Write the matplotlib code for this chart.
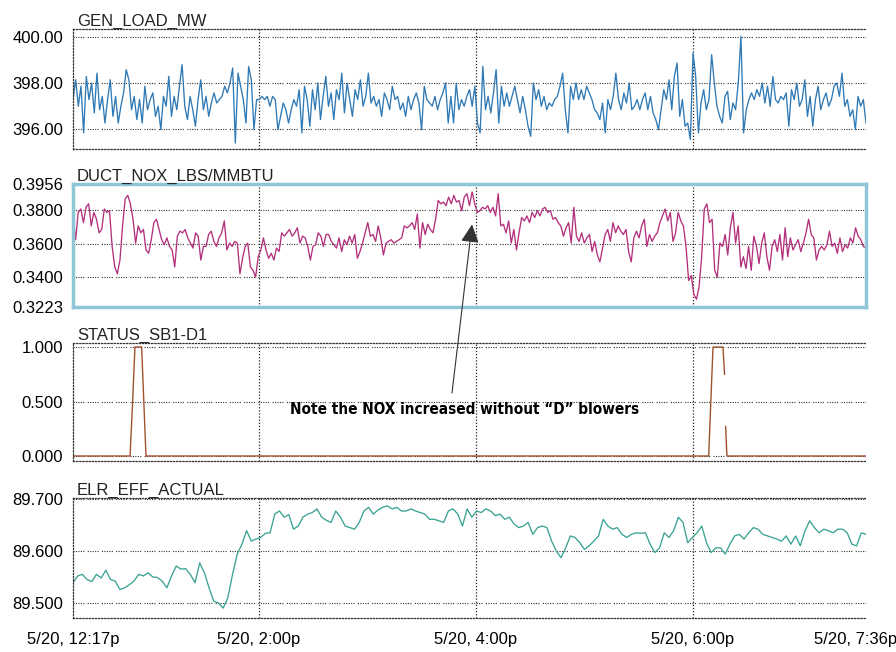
import numpy as np
import matplotlib.pyplot as plt
from matplotlib.transforms import ScaledTranslation

plt.rcParams['font.family'] = ['Liberation Sans', 'DejaVu Sans']

# time axis in minutes after 5/20 12:17p (run ends 7:36p)
t_end = 439
tick_min = [0, 103, 223, 343, 439]
tick_lab = ['5/20, 12:17p', '5/20, 2:00p', '5/20, 4:00p', '5/20, 6:00p', '5/20, 7:36p']
grid_min = [103, 223, 343]

# GEN_LOAD_MW readings
gen_load = [
    397.28, 398.14, 396.99, 397.86, 395.83, 398.29, 397.28, 398.00, 396.70, 398.43,
    396.84, 397.42, 396.26, 397.28, 398.14, 396.55, 397.42, 396.26, 396.99, 397.57,
    398.58, 398.14, 396.84, 397.42, 396.41, 397.28, 396.26, 397.86, 396.84, 397.28,
    397.57, 396.55, 396.99, 395.97, 397.42, 396.99, 398.29, 396.55, 397.42, 396.84,
    397.86, 398.80, 396.99, 396.41, 397.42, 396.84, 396.12, 397.28, 398.14, 396.84,
    397.42, 396.55, 397.13, 397.57, 397.13, 397.28, 397.42, 397.86, 397.57, 398.00,
    398.65, 395.39, 398.43, 397.86, 397.28, 396.26, 398.72, 398.14, 395.97, 397.28,
    397.28, 397.42, 397.28, 397.42, 396.99, 397.42, 397.28, 395.97, 396.55, 397.13,
    396.84, 396.26, 396.84, 397.28, 396.99, 397.71, 395.83, 397.86, 397.28, 396.12,
    397.71, 396.84, 398.00, 396.41, 397.42, 398.29, 396.99, 397.57, 396.41, 397.71,
    397.28, 398.43, 396.70, 398.00, 397.28, 396.55, 397.71, 397.28, 398.14, 396.99,
    397.42, 398.43, 397.13, 397.42, 396.99, 397.28, 396.55, 397.57, 397.28, 396.84,
    397.86, 397.28, 397.42, 396.84, 397.13, 396.55, 397.42, 396.84, 397.28, 397.57,
    397.13, 395.97, 397.86, 397.28, 397.13, 396.99, 397.42, 396.84, 397.28, 397.57,
    398.00, 396.26,
    397.42, 396.26, 398.00, 396.84, 397.28, 396.99, 397.42, 397.71, 396.99, 397.86,
    396.26, 395.83, 398.72, 396.84, 397.42, 396.70, 397.57, 398.58, 396.26, 397.86,
    396.99, 397.57, 396.99, 397.42, 397.86, 397.28, 396.70, 397.42, 396.84, 396.12,
    395.68, 398.00, 397.28, 397.71, 396.99, 397.42, 396.84, 397.13, 396.99, 397.28,
    397.42, 397.86, 398.43, 396.84, 395.83, 397.86, 397.28, 398.00, 397.28, 397.71,
    397.28, 397.86, 397.57, 397.28, 396.84, 396.70, 396.41, 397.13, 395.83, 397.28,
    396.84, 397.42, 398.43, 397.28, 396.84, 397.57, 397.13, 398.00, 396.84, 396.99,
    397.28, 396.84, 397.28, 397.57, 396.84, 397.42, 396.70, 396.41, 395.97, 396.84,
    397.71, 397.28, 398.14, 396.84, 398.29, 398.87, 396.55, 397.28, 396.12, 396.26,
    395.54, 399.30, 398.29, 395.83, 397.13, 397.71, 396.84, 397.28, 399.23, 398.00,
    396.99, 396.55, 396.26, 397.42, 397.64, 396.41, 397.13, 396.84, 398.00, 400.03,
    395.83, 396.84, 397.28, 397.57, 397.28, 397.71, 397.42, 398.00, 397.13, 397.86,
    396.99, 398.29, 397.28, 397.13, 397.42, 397.28, 397.57, 396.12, 397.71, 397.28,
    398.00, 396.99, 397.28, 398.14, 396.55, 397.42, 396.12, 397.28, 397.86, 396.84,
    397.28, 397.57, 396.99, 397.28, 397.86, 398.00, 397.42, 398.43, 396.99, 397.28,
    396.55, 396.84, 395.97, 397.42, 396.99, 397.28, 396.26,
]

# DUCT_NOX_LBS/MMBTU readings
duct_nox = [
    0.3756, 0.3624, 0.3787, 0.3807, 0.3726, 0.3817, 0.3838, 0.3706, 0.3787, 0.3746,
    0.3665, 0.3685, 0.3807, 0.3787, 0.3797, 0.3584, 0.3462, 0.3421, 0.3503, 0.3706,
    0.3868, 0.3888, 0.3838, 0.3746, 0.3604, 0.3706, 0.3665, 0.3685, 0.3563, 0.3543,
    0.3624, 0.3726, 0.3746, 0.3685, 0.3624, 0.3594, 0.3635, 0.3584, 0.3563, 0.3462,
    0.3645, 0.3675, 0.3665, 0.3685, 0.3635, 0.3604, 0.3574, 0.3665, 0.3645, 0.3503,
    0.3584, 0.3584, 0.3655, 0.3675, 0.3614, 0.3584, 0.3635, 0.3665, 0.3736, 0.3563,
    0.3604, 0.3584, 0.3614, 0.3604, 0.3421, 0.3513, 0.3584, 0.3604, 0.3462, 0.3442,
    0.3401, 0.3523, 0.3563, 0.3635, 0.3563, 0.3513, 0.3543, 0.3503, 0.3574, 0.3554,
    0.3665, 0.3645, 0.3665, 0.3685, 0.3645, 0.3665, 0.3695, 0.3604, 0.3645, 0.3635,
    0.3584, 0.3503, 0.3584, 0.3594, 0.3665, 0.3645, 0.3584, 0.3655, 0.3655, 0.3614,
    0.3594, 0.3574,
    0.3635, 0.3553, 0.3624, 0.3594, 0.3645, 0.3604, 0.3655, 0.3513, 0.3553, 0.3604,
    0.3665, 0.3726, 0.3645, 0.3655, 0.3614, 0.3706, 0.3635, 0.3533, 0.3604, 0.3614,
    0.3624, 0.3604, 0.3614, 0.3624, 0.3635, 0.3706, 0.3695, 0.3706, 0.3726, 0.3685,
    0.3777, 0.3574, 0.3726, 0.3655, 0.3716, 0.3685, 0.3665, 0.3746, 0.3858, 0.3838,
    0.3848, 0.3827, 0.3878, 0.3838, 0.3888, 0.3848, 0.3858, 0.3797, 0.3878, 0.3898,
    0.3827, 0.3909, 0.3838, 0.3787, 0.3797, 0.3817, 0.3807, 0.3827, 0.3787, 0.3817,
    0.3766, 0.3898, 0.3706, 0.3716, 0.3665, 0.3736, 0.3604, 0.3685, 0.3563, 0.3665,
    0.3756, 0.3736, 0.3766, 0.3726, 0.3787, 0.3756, 0.3797, 0.3766, 0.3807, 0.3817,
    0.3787, 0.3797, 0.3746, 0.3756, 0.3726, 0.3706, 0.3645, 0.3695, 0.3726, 0.3604,
    0.3817, 0.3645, 0.3614, 0.3665, 0.3604, 0.3635, 0.3655, 0.3553,
    0.3614, 0.3533, 0.3492, 0.3574, 0.3655, 0.3685, 0.3614, 0.3726, 0.3665, 0.3706,
    0.3675, 0.3655, 0.3685, 0.3553, 0.3492, 0.3635, 0.3675, 0.3635, 0.3706, 0.3746,
    0.3584, 0.3655, 0.3614, 0.3645, 0.3665, 0.3726, 0.3766, 0.3807, 0.3736, 0.3787,
    0.3614, 0.3665, 0.3787, 0.3736, 0.3706, 0.3584, 0.3381, 0.3411, 0.3299, 0.3269,
    0.3340, 0.3523, 0.3807, 0.3838, 0.3726, 0.3746, 0.3442, 0.3401, 0.3604, 0.3584,
    0.3655, 0.3533, 0.3695, 0.3787, 0.3604, 0.3706, 0.3462, 0.3523, 0.3452, 0.3584,
    0.3442, 0.3645, 0.3584, 0.3482, 0.3604, 0.3665, 0.3523, 0.3442, 0.3584, 0.3624,
    0.3553, 0.3655, 0.3503, 0.3695, 0.3523, 0.3635, 0.3563, 0.3594, 0.3624, 0.3553,
    0.3604, 0.3665, 0.3746, 0.3655, 0.3635, 0.3503, 0.3563, 0.3584, 0.3563, 0.3594,
    0.3675, 0.3584, 0.3604, 0.3543, 0.3635, 0.3553, 0.3594, 0.3574, 0.3635, 0.3604,
    0.3695, 0.3645, 0.3624, 0.3584, 0.3574,
]

# STATUS_SB1-D1 (minutes, state); nan = gap in the record
status_t = [0, 31.6, 33.0, 34.3, 38.0, 39.2, 40.4, 351.9, 353.1, 354.3, 359.8, 360.7, 361.0, 361.3, 362.0, 439]
status_v = [0, 0, 0.5, 1, 1, 0.5, 0, 0, 0.5, 1, 1, 0.75, np.nan, 0.27, 0, 0]

# ELR_EFF_ACTUAL readings
elr_eff = [
    89.539, 89.552, 89.555, 89.545, 89.541, 89.555, 89.548, 89.563, 89.545, 89.542,
    89.526, 89.529, 89.535, 89.542, 89.555, 89.552, 89.558, 89.550, 89.549, 89.542,
    89.529, 89.552, 89.571, 89.565, 89.566, 89.555, 89.539, 89.577, 89.558, 89.529,
    89.503, 89.500, 89.490, 89.510, 89.555, 89.594, 89.613, 89.639, 89.619, 89.623,
    89.626, 89.634, 89.635, 89.671, 89.677, 89.665, 89.670, 89.642, 89.648, 89.665,
    89.671, 89.674, 89.681, 89.665, 89.659, 89.655, 89.677, 89.665, 89.648, 89.645,
    89.642, 89.655, 89.677, 89.684, 89.671, 89.679, 89.684, 89.687, 89.681, 89.684,
    89.677, 89.677, 89.681, 89.677, 89.674, 89.671, 89.661, 89.661, 89.658, 89.655,
    89.677, 89.681, 89.671, 89.648,
    89.681, 89.665, 89.677, 89.674, 89.681, 89.677, 89.668, 89.671, 89.661, 89.665,
    89.652, 89.645, 89.648, 89.655, 89.632, 89.645, 89.648, 89.645, 89.619, 89.600,
    89.587, 89.606, 89.629, 89.626, 89.616, 89.603, 89.610, 89.619, 89.629, 89.661,
    89.648, 89.642, 89.645, 89.632, 89.626, 89.632, 89.635, 89.634, 89.635, 89.613,
    89.597, 89.606, 89.635, 89.626, 89.639, 89.665, 89.655, 89.616, 89.626, 89.635,
    89.648, 89.616, 89.597, 89.606, 89.606, 89.594, 89.613, 89.629, 89.632, 89.623,
    89.635, 89.645, 89.642, 89.632, 89.629, 89.626, 89.623, 89.619, 89.629, 89.613,
    89.629, 89.610, 89.639, 89.658, 89.645, 89.635, 89.642, 89.639, 89.635, 89.642,
    89.642, 89.635, 89.613, 89.610, 89.635, 89.632,
]

fig = plt.figure(figsize=(8.96, 6.52), dpi=100)
left, width = 73 / 896, 793 / 896

# (title, data, colour, bottom px, top px, ylim, ticks, tick labels, grid levels)
panels = [
    ('GEN_LOAD_MW', gen_load, '#2f79b5', 149, 29, (395.13, 400.35),
     [396, 398, 400], ['396.00', '398.00', '400.00'], [396, 398, 400]),
    ('DUCT_NOX_LBS/MMBTU', duct_nox, '#b3307c', 307, 184, (0.3223, 0.3956),
     [0.3223, 0.34, 0.36, 0.38, 0.3956], ['0.3223', '0.3400', '0.3600', '0.3800', '0.3956'],
     [0.34, 0.36, 0.38]),
    ('STATUS_SB1-D1', None, '#a0522d', 461, 343, (-0.046, 1.037),
     [0, 0.5, 1], ['0.000', '0.500', '1.000'], [0, 0.5, 1]),
    ('ELR_EFF_ACTUAL', elr_eff, '#3aa394', 618, 498, (89.471, 89.702),
     [89.5, 89.6, 89.7], ['89.500', '89.600', '89.700'], [89.5, 89.6, 89.7]),
]

dots = (0, (1, 1.2, 1, 1.2, 1, 1.2, 1, 1.2, 1, 3))
axes = []
for i, (name, vals, col, bpx, tpx, ylim, yt, ytl, glev) in enumerate(panels):
    ax = fig.add_axes([left, 1 - bpx / 652, width, (bpx - tpx) / 652])
    if vals is None:
        ax.plot(status_t, status_v, color=col, lw=1.0)
    else:
        t = np.linspace(0, t_end, len(vals))
        ax.plot(t, vals, color=col, lw=0.95)
    ax.set_xlim(0, t_end)
    ax.set_ylim(*ylim)
    ax.set_yticks(yt)
    ax.set_yticklabels(ytl, fontsize=12)
    ax.tick_params(length=0, pad=7)
    for g in glev:
        ax.axhline(g, color='#333333', lw=0.8, ls=dots, zorder=0)
    for g in grid_min:
        ax.axvline(g, color='#222222', lw=0.9, ls=(0, (1, 1.5)), zorder=0)
    if i == 1:
        for s in ax.spines.values():
            s.set_color('#8ec6d8')
            s.set_linewidth(2.5)
    else:
        ax.spines['right'].set_visible(False)
        for s in ['top', 'bottom', 'left']:
            ax.spines[s].set_linestyle((0, (1, 1.5)))
            ax.spines[s].set_linewidth(0.9)
            ax.spines[s].set_color('#333333')
    ax.text(0.005, 1.0, name, transform=ax.transAxes, fontsize=12,
            ha='left', va='bottom', color='#222222')
    if i < 3:
        ax.set_xticks([])
    else:
        ax.set_xticks(tick_min)
        ax.set_xticklabels(tick_lab, fontsize=12)
        ax.tick_params(axis='x', pad=10)
        last = ax.get_xticklabels()[-1]
        last.set_transform(last.get_transform() + ScaledTranslation(-0.1, 0, fig.dpi_scale_trans))
    axes.append(ax)

ax2, ax3 = axes[1], axes[2]
ax3.text(217, 0.43, 'Note the NOX increased without \u201cD\u201d blowers',
         ha='center', va='center', fontsize=11, fontweight='heavy',
         fontstretch='condensed', family=['DejaVu Sans'])
ax3.annotate('', xy=(220.9, 0.3715), xycoords=ax2.transData,
             xytext=(209.8, 0.578), textcoords=ax3.transData,
             arrowprops=dict(arrowstyle='-|>', color='#333333', lw=0.8,
                             mutation_scale=28, shrinkA=0, shrinkB=0),
             annotation_clip=False)

fig.savefig('out.png', dpi=100)
